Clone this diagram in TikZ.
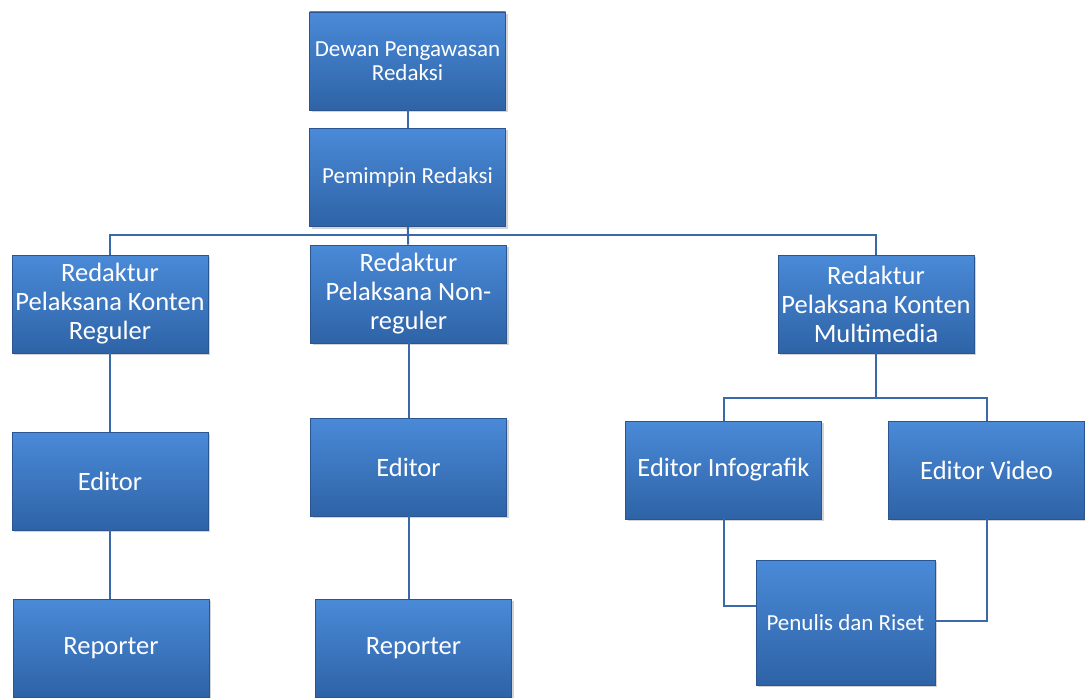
\documentclass[tikz,border=0pt]{standalone}
\usepackage{fontspec}
\setmainfont{Carlito}
\usetikzlibrary{shadows}
\definecolor{boxtop}{HTML}{4A8AD8}
\definecolor{boxbot}{HTML}{2E63A6}
\definecolor{boxline}{HTML}{2A5590}
\definecolor{linkblue}{HTML}{3A69A8}
\begin{document}
\begin{tikzpicture}[x=1pt,y=-1pt,
  box/.style={draw=boxline,line width=0.8pt,top color=boxtop,bottom color=boxbot,
    text=white,align=center,minimum width=196pt,minimum height=98pt,inner sep=2pt,
    drop shadow={shadow xshift=2pt,shadow yshift=-2pt,opacity=0.35}},
  bigtext/.style={font=\fontsize{26.5}{29}\selectfont},
  smalltext/.style={font=\fontsize{23}{24}\selectfont},
  link/.style={draw=linkblue,line width=2pt}]
\useasboundingbox (0,0) rectangle (1085,698);
% top
\node[box,smalltext] (dewan) at (407.5,61) {Dewan Pengawasan\\Redaksi};
\node[box,smalltext] (pemimpin) at (407.5,177.5) {Pemimpin Redaksi};
% redaktur
\node[box,bigtext] (redReg) at (110,304) {Redaktur\\Pelaksana Konten\\Reguler};
\node[box,bigtext] (redNon) at (408.5,294) {Redaktur\\Pelaksana Non-\\reguler};
\node[box,bigtext] (redMul) at (876,304) {Redaktur\\Pelaksana Konten\\Multimedia};
% editor
\node[box,bigtext] (edReg) at (110,481) {Editor};
\node[box,bigtext] (edNon) at (408.5,467) {Editor};
\node[box,bigtext] (edInfo) at (723.5,470) {Editor Infografik};
\node[box,bigtext] (edVid) at (986.5,470) {Editor Video};
% bottom
\node[box,bigtext] (repReg) at (111,648) {Reporter};
\node[box,bigtext] (repNon) at (413.5,648) {Reporter};
\node[box,smalltext,minimum width=179pt,minimum height=125pt] (penulis) at (845.5,622.5) {Penulis dan Riset};
% links
\coordinate (busT) at (408,235);
\coordinate (busM) at (876,398);
\draw[link] (dewan) -- (pemimpin);
\draw[link] (pemimpin) -- (redNon);
\draw[link] (redReg.north) |- (busT) -| (redMul.north);
\draw[link] (redReg) -- (edReg);
\draw[link] (edReg) -- (repReg.north -| edReg.south);
\draw[link] (redNon) -- (edNon);
\draw[link] (edNon.south) -- (edNon.south |- repNon.north);
\draw[link] (redMul) -- (busM);
\draw[link] (edInfo.north) |- (busM) -| (edVid.north);
\draw[link] (edInfo.south) |- ([yshift=17pt]penulis.west);
\draw[link] (edVid.south) |- ([yshift=2pt]penulis.east);
\end{tikzpicture}
\end{document}
